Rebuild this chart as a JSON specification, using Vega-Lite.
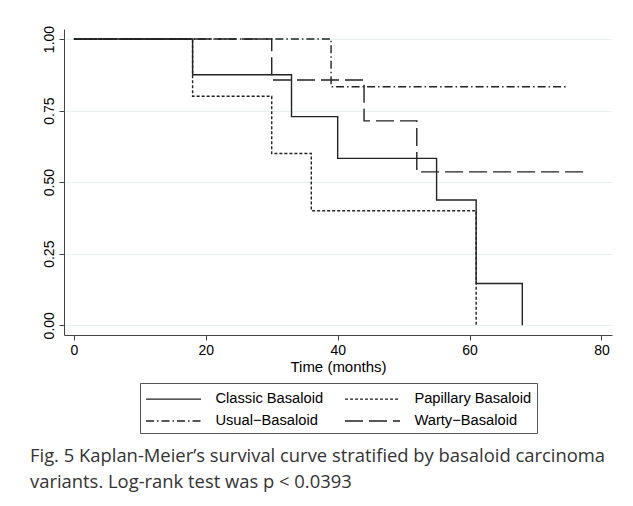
{
  "$schema": "https://vega.github.io/schema/vega-lite/v6.json",
  "width": 548,
  "height": 306,
  "autosize": {"type": "none"},
  "padding": {"left": 64, "top": 29, "right": 21, "bottom": 171},
  "background": "white",
  "title": {
    "text": ["Fig. 5 Kaplan-Meier’s survival curve stratified by basaloid carcinoma", "variants. Log-rank test was p < 0.0393"],
    "orient": "bottom",
    "anchor": "start",
    "frame": "group",
    "dx": -34,
    "offset": 13,
    "font": "Open Sans",
    "fontSize": 18.4,
    "fontWeight": "normal",
    "color": "#333333",
    "lineHeight": 26,
    "baseline": "top"
  },
  "data": {
    "values": [
      {"group": "Classic Basaloid", "time": 0, "survival": 1},
      {"group": "Classic Basaloid", "time": 18, "survival": 0.875},
      {"group": "Classic Basaloid", "time": 33, "survival": 0.729},
      {"group": "Classic Basaloid", "time": 40, "survival": 0.583},
      {"group": "Classic Basaloid", "time": 55, "survival": 0.4375},
      {"group": "Classic Basaloid", "time": 61, "survival": 0.146},
      {"group": "Classic Basaloid", "time": 68, "survival": 0},
      {"group": "Papillary Basaloid", "time": 0, "survival": 1},
      {"group": "Papillary Basaloid", "time": 18, "survival": 0.8},
      {"group": "Papillary Basaloid", "time": 30, "survival": 0.6},
      {"group": "Papillary Basaloid", "time": 36, "survival": 0.4},
      {"group": "Papillary Basaloid", "time": 61, "survival": 0},
      {"group": "Usual−Basaloid", "time": 0, "survival": 1},
      {"group": "Usual−Basaloid", "time": 39, "survival": 0.833},
      {"group": "Usual−Basaloid", "time": 75, "survival": 0.833},
      {"group": "Warty−Basaloid", "time": 0, "survival": 1},
      {"group": "Warty−Basaloid", "time": 30, "survival": 0.857},
      {"group": "Warty−Basaloid", "time": 44, "survival": 0.714},
      {"group": "Warty−Basaloid", "time": 52, "survival": 0.536},
      {"group": "Warty−Basaloid", "time": 78, "survival": 0.536}
    ]
  },
  "mark": {"type": "line", "interpolate": "step-after", "strokeWidth": 1.4, "color": "#222222"},
  "encoding": {
    "x": {
      "field": "time",
      "type": "quantitative",
      "scale": {"domain": [-1.5, 81.6], "nice": false, "zero": false},
      "axis": {
        "values": [0, 20, 40, 60, 80],
        "title": "Time (months)",
        "grid": false,
        "titleFont": "Liberation Sans",
        "titleFontSize": 15,
        "titleFontWeight": "normal",
        "titleColor": "#000000",
        "titlePadding": 2,
        "labelFont": "Liberation Sans",
        "labelFontSize": 14,
        "labelColor": "#000000",
        "labelPadding": 3,
        "tickSize": 5,
        "tickColor": "#444444",
        "domainColor": "#444444"
      }
    },
    "y": {
      "field": "survival",
      "type": "quantitative",
      "scale": {"domain": [-0.034, 1.035], "nice": false, "zero": false},
      "axis": {
        "values": [0, 0.25, 0.5, 0.75, 1],
        "format": ".2f",
        "title": null,
        "grid": true,
        "gridColor": "#e6f2f2",
        "gridWidth": 1,
        "labelAngle": 270,
        "labelAlign": "center",
        "labelBaseline": "bottom",
        "labelFont": "Liberation Sans",
        "labelFontSize": 14,
        "labelColor": "#000000",
        "labelPadding": 3,
        "tickSize": 5,
        "tickColor": "#444444",
        "domainColor": "#444444"
      }
    },
    "strokeDash": {
      "field": "group",
      "type": "nominal",
      "scale": {
        "domain": ["Classic Basaloid", "Papillary Basaloid", "Usual−Basaloid", "Warty−Basaloid"],
        "range": [[1, 0], [3, 2], [8, 3, 1.5, 3], [18, 6]]
      },
      "legend": {
        "title": null,
        "orient": "bottom",
        "direction": "horizontal",
        "columns": 2,
        "symbolType": "M-1,0H4.5",
        "symbolSize": 400,
        "symbolStrokeColor": "#222222",
        "symbolStrokeWidth": 1.4,
        "labelFont": "Liberation Sans",
        "labelFontSize": 14.7,
        "labelColor": "#000000",
        "labelOffset": 48.4,
        "columnPadding": 18,
        "rowPadding": 4,
        "padding": 5,
        "strokeColor": "#555555",
        "offset": 9,
        "gridAlign": "each"
      }
    }
  },
  "config": {
    "view": {"stroke": null},
    "legend": {"layout": {"bottom": {"anchor": "middle"}}}
  }
}
